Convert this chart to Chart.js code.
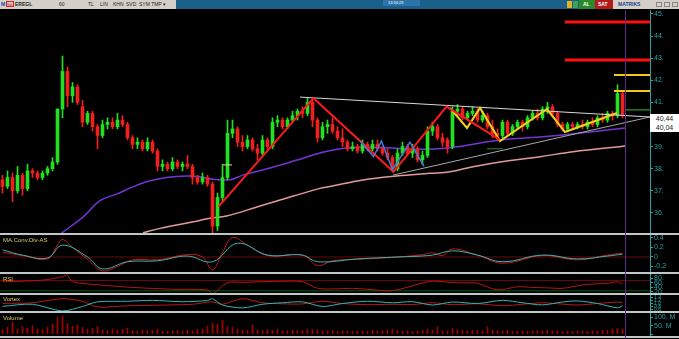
<!DOCTYPE html>
<html>
<head>
<meta charset="utf-8">
<script src="https://cdn.jsdelivr.net/npm/chart.js@4.4.1/dist/chart.umd.min.js"></script>
<style>
  body { margin: 0; background: #000; width: 679px; height: 339px; overflow: hidden; position: relative; font-family: "Liberation Sans", Arial, sans-serif; }
  canvas { position: absolute; left: 0; }
  .sep { position: absolute; left: 0; width: 679px; height: 2px; background: #bfc7c7; }
  .title { position: absolute; left: 3px; font-size: 6px; line-height: 6px; color: #d9cf6a; }
  .tb { position: absolute; top: 0; height: 9px; }
  .tt { position: absolute; top: 1px; font-size: 5px; line-height: 7px; color: #222; }
</style>
</head>
<body>

<!-- toolbar -->
<div class="tb" style="left:0;width:679px;background:#1b5f8b"></div>
<div class="tb" style="left:0;width:176px;background:#d4d0c8"></div>
<span class="tt" style="left:1px;color:#1a40b0;font-weight:bold">M</span>
<span class="tt" style="left:6px;top:1px;width:8px;height:6px;border:1px solid #d02020;box-sizing:border-box;color:#d02020;font-size:4px;line-height:5px">Sd</span>
<span class="tt" style="left:15px;font-weight:bold">EREGL</span>
<span class="tt" style="left:59px">60</span>
<span class="tt" style="left:88px">TL</span>
<span class="tt" style="left:100px">LIN</span>
<span class="tt" style="left:113px">KHN</span>
<span class="tt" style="left:126px">SVD</span>
<span class="tt" style="left:139px">SYM TMP</span>
<span class="tt" style="left:163px">▾</span>
<div class="tb" style="left:383px;width:37px;height:6px;background:#2c74a8"></div>
<span class="tt" style="left:388px;top:0;color:#fff;font-size:4px;line-height:6px">13:34:29</span>
<div class="tb" style="left:567px;top:1px;width:5px;height:7px;background:#e0b030"></div>
<div class="tb" style="left:573px;top:1px;width:5px;height:7px;background:#3fa04f"></div>
<div class="tb" style="left:579px;width:16px;background:#2a8a2a"></div>
<span class="tt" style="left:583px;color:#fff;font-weight:bold">AL</span>
<div class="tb" style="left:595px;width:18px;background:#b01c1c"></div>
<span class="tt" style="left:598px;color:#fff;font-weight:bold">SAT</span>
<div class="tb" style="left:613px;width:66px;background:#d4d0c8"></div>
<span class="tt" style="left:618px;color:#243c8c;font-weight:bold">MATRIKS</span>
<div class="tb" style="left:656px;top:2px;width:6px;height:5px;border:1px solid #888;box-sizing:border-box"></div>
<div class="tb" style="left:664px;top:2px;width:6px;height:5px;border:1px solid #888;box-sizing:border-box"></div>
<div class="tb" style="left:672px;top:2px;width:6px;height:5px;border:1px solid #888;box-sizing:border-box"></div>

<!-- panes -->
<canvas id="main" width="679" height="223" style="top:10px"></canvas>
<div class="sep" style="top:233px"></div>
<canvas id="macd" width="679" height="37" style="top:235px"></canvas>
<div class="sep" style="top:272px"></div>
<canvas id="rsi" width="679" height="19" style="top:274px"></canvas>
<div class="sep" style="top:293px"></div>
<canvas id="vortex" width="679" height="16" style="top:295px"></canvas>
<div class="sep" style="top:311px"></div>
<canvas id="volume" width="679" height="23" style="top:313px"></canvas>
<div class="sep" style="top:336px"></div>

<div class="title" style="top:237px">MA.Conv.Div-AS</div>
<div class="title" style="top:276px">RSI</div>
<div class="title" style="top:296px">Vortex</div>
<div class="title" style="top:315px">Volume</div>

<!-- cursor line + last price box -->
<div style="position:absolute;left:625px;top:10px;width:1px;height:329px;background:#5e2a8a"></div>
<div id="pricebox" style="position:absolute;left:650px;top:114px;width:29px;height:18px;background:#fff;font-size:7px;line-height:9px;color:#222;text-align:center"></div>

<script>
// ---- data (bar index 0..124, hourly candles) ----
const opens = [37.5,37.2,37.6,37.0,37.7,37.1,37.9,37.8,37.6,37.8,
  38.0,38.3,40.7,42.4,41.3,41.7,40.8,40.1,40.5,39.9,
  39.5,40.0,40.1,39.9,40.2,40.0,39.4,39.1,39.2,38.9,
  39.2,38.8,38.1,38.2,38.0,38.3,38.1,38.2,38.1,37.6,
  37.4,37.6,37.3,35.4,36.7,37.6,39.6,39.8,39.2,39.0,
  39.3,38.9,38.7,39.3,39.0,40.1,40.2,39.9,40.2,40.4,
  40.6,40.5,41.0,40.2,39.4,39.9,40.0,39.7,39.4,39.2,
  38.9,39.0,38.8,39.1,38.9,39.1,38.9,38.7,38.5,38.0,
  38.7,39.0,38.7,38.9,38.4,38.6,39.7,39.9,39.4,39.3,
  39.0,40.6,40.7,40.3,40.5,40.6,40.2,40.4,39.9,39.6,
  39.5,40.1,39.6,39.9,40.1,39.9,40.3,40.5,40.3,40.7,
  40.8,40.5,40.0,39.8,40.0,39.9,40.0,39.9,40.1,40.0,
  40.3,40.2,40.5,40.4,41.4];
const highs = [37.7,37.9,37.8,38.1,37.8,38.2,38.0,37.9,37.9,38.1,
  38.5,40.7,43.1,42.6,41.9,41.8,41.1,40.6,40.6,40.0,
  40.2,40.3,40.3,40.5,40.4,40.1,39.5,39.4,39.3,39.4,
  39.3,38.9,38.4,38.3,38.5,38.4,38.3,38.6,38.2,37.7,
  37.8,37.7,37.4,36.9,38.2,40.2,40.2,39.9,39.5,39.5,
  39.4,39.1,39.5,39.4,40.3,40.4,40.3,40.3,40.6,40.7,
  40.8,41.2,41.1,40.3,40.1,40.2,40.3,39.9,39.8,39.3,
  39.2,39.1,39.3,39.2,39.3,39.3,39.0,38.9,38.6,38.9,
  39.2,39.1,39.1,39.0,38.8,39.9,40.1,40.0,39.6,39.4,
  40.8,40.9,40.8,40.6,40.8,40.7,40.6,40.5,40.2,39.8,
  40.2,40.2,40.0,40.2,40.2,40.4,40.6,40.7,40.8,41.0,
  40.9,40.6,40.1,40.1,40.1,40.1,40.2,40.2,40.3,40.4,
  40.5,40.6,40.6,41.8,41.5];
const lows = [36.9,37.1,36.5,36.9,36.8,37.0,37.6,37.5,37.5,37.7,
  37.9,38.2,40.3,40.8,41.0,40.9,39.9,40.0,39.7,38.9,
  39.4,39.8,39.8,39.8,39.9,39.3,38.9,38.9,38.8,38.8,
  38.7,37.9,37.9,37.9,37.9,38.0,37.9,38.0,37.3,37.3,
  37.3,37.2,35.0,35.2,36.5,37.5,39.4,39.0,38.8,38.9,
  38.8,38.4,38.6,38.9,38.9,39.9,39.8,39.8,40.1,40.2,
  40.3,40.4,39.9,39.2,39.3,39.6,39.6,39.3,39.0,38.8,
  38.8,38.7,38.7,38.8,38.8,38.8,38.6,38.4,37.85,37.9,
  38.6,38.6,38.5,38.3,38.2,38.5,39.5,39.3,39.0,38.7,
  38.9,40.4,40.2,40.2,40.4,40.1,40.1,39.8,39.4,39.3,
  39.4,39.5,39.5,39.8,39.7,39.8,40.2,40.2,40.2,40.5,
  40.4,39.9,39.7,39.7,39.8,39.8,39.8,39.8,39.9,39.9,
  40.1,40.1,40.2,40.3,40.3];
const closes = [37.2,37.6,37.0,37.7,37.1,37.9,37.8,37.6,37.8,38.0,
  38.3,40.7,42.4,41.3,41.7,41.0,40.1,40.5,39.9,39.5,
  40.0,40.1,39.9,40.2,40.0,39.4,39.1,39.2,38.9,39.2,
  38.8,38.1,38.2,38.0,38.3,38.1,38.2,38.1,37.6,37.4,
  37.6,37.3,35.4,36.7,37.6,39.6,39.8,39.2,39.0,39.3,
  38.9,38.7,39.3,39.0,40.1,40.2,39.9,40.2,40.4,40.6,
  40.5,41.0,40.2,39.4,39.9,40.0,39.7,39.4,39.2,38.9,
  39.0,38.8,39.1,38.9,39.1,38.9,38.7,38.5,38.0,38.7,
  39.0,38.7,38.9,38.4,38.6,39.7,39.9,39.4,39.2,39.0,
  40.6,40.7,40.3,40.5,40.6,40.2,40.4,39.9,39.6,39.5,
  40.1,39.6,39.9,40.1,39.9,40.3,40.5,40.3,40.7,40.8,
  40.5,40.0,39.8,40.0,39.9,40.0,39.9,40.1,40.0,40.3,
  40.2,40.5,40.4,41.4,40.44];
const volumes = [25,40,70,30,45,35,50,30,25,40,
  60,100,107,65,45,55,40,30,35,45,
  25,20,30,22,28,35,20,18,25,20,
  22,30,18,15,20,22,18,25,20,28,
  30,48,65,60,83,45,40,30,25,22,
  54,25,20,28,22,30,18,20,25,22,
  20,30,28,25,20,18,22,15,20,18,
  15,18,20,16,22,18,20,25,30,22,
  18,20,15,18,22,30,25,42,20,18,
  35,25,20,18,22,20,18,42,25,20,
  18,22,15,18,20,16,18,22,20,25,
  18,20,15,18,16,20,18,15,20,18,
  22,25,30,35,30];

// moving averages [bar, price]
const maPurple = [[11.8,35.08],[16.2,35.83],[19.5,36.55],[22.8,36.85],[26.2,37.19],[29.5,37.45],[32.8,37.6],[36.8,37.67],[39.5,37.64],[42.1,37.52],[45.5,37.5],[48.1,37.71],[53.5,38.03],[58.9,38.39],[63.5,38.71],[68.9,38.94],[75.5,38.96],[82.1,38.88],[89.5,38.95],[99.5,39.3],[107.5,39.43],[117.5,39.66],[124.5,39.84]];
const maPink = [[28.1,35.1],[31.5,35.3],[38.2,35.6],[41.5,35.76],[44.8,35.86],[51.5,36.31],[58.2,36.76],[63.5,37.11],[65.5,37.19],[72.1,37.49],[78.8,37.67],[85.5,37.79],[89.5,37.86],[94.1,38.09],[100.8,38.35],[107.5,38.54],[114.1,38.77],[124.5,39.03]];

// drawings
const zigRed = [[43.2,36.28],[62.2,41.19],[78.2,37.86],[88.8,40.81],[99.5,39.3]];
const zigYellow = [[89.5,40.75],[92.9,39.84],[95.5,40.75],[99.5,39.25],[108.9,40.7],[112.5,39.66],[122.9,40.52]];
const zigBlue = [[71.5,39.25],[74.2,38.55],[75.8,39.25],[78,37.95],[81.5,39.2],[84.3,38.1]];
const trendUpper = [[59.5,41.24],[129.5,40.34]];
const trendLower = [[78.1,37.71],[129.5,40.34]];
const stepMark = [[44.1,38.17],[45.9,38.17]];
const greenMark = [[96.9,38.9],[100.1,38.9]];
const redLevels = [44.64, 42.92];
const redFrom = 112.5;
const yellowLevels = [42.24, 41.52];
const yellowFrom = 122.3;
const greenLevels = [40.66];
const greenFrom = 124.5;
const lastPrices = ['40,44', '40,04'];

// indicators [bar, value]
const macdFast = [[0,0.1],[4,0.03],[9,-0.04],[11,0.25],[12,0.37],[14,0.2],[17,-0.05],[20,-0.29],[23,-0.2],[26,-0.06],[31,-0.06],[37,0.05],[40,0.0],[42,-0.27],[44,0.1],[46,0.41],[49,0.25],[53,0.03],[60,0.04],[63,-0.18],[66,-0.08],[71,-0.05],[79,0.0],[84,0.05],[86,0.09],[88,0.03],[90,0.17],[95,0.04],[100,-0.13],[108,0.03],[115,-0.06],[121,0.04],[124,0.08]];
const macdSlow = [[0,0.15],[4,0.04],[9,-0.02],[12,0.25],[17,0],[20,-0.25],[25,-0.1],[31,-0.08],[37,0.02],[42,-0.1],[47,0.29],[53,0.04],[60,0.04],[63,-0.1],[71,-0.04],[79,0],[86,0.04],[90,0.13],[95,0.04],[100,-0.1],[108,0.04],[115,-0.04],[121,0.02],[124,0.06]];
const rsiVals = [[0,65],[8,72],[12,87],[13,93],[14,65],[20,50],[26,40],[34,32],[41,29],[42,12],[45,61],[48,62],[52,65],[56,67],[60,65],[63,36],[67,34],[70,36],[73,32],[78,26],[85,65],[87,67],[90,61],[92,60],[95,58],[99,29],[103,43],[106,40],[109,38],[112,36],[116,51],[119,56],[121,58],[123,65],[124,55]];
const rsiLevels = [70, 25];
const viPlus = [[0,0.81],[6,0.95],[12,0.5],[16,0.8],[19,1.11],[25,1.15],[30,1.21],[36,1.12],[41,1.2],[42,1.32],[44,0.9],[48,0.71],[52,0.95],[56,1.05],[60,1.11],[64,0.8],[68,1.0],[73,1.15],[78,1.05],[82,1.12],[86,0.9],[90,1.1],[95,1.0],[100,1.21],[104,1.05],[108,0.91],[112,1.1],[115,1.17],[119,1.0],[123,0.71],[124,0.85]];
const viMinus = [[0,1.01],[6,1.05],[12,1.32],[16,1.15],[19,0.77],[25,0.85],[30,0.88],[34,0.91],[38,0.95],[42,1.11],[44,0.95],[48,1.32],[52,1.05],[56,0.98],[60,0.97],[64,1.15],[68,1.0],[73,0.92],[78,0.95],[82,0.93],[86,1.05],[90,0.92],[95,0.98],[100,0.85],[104,0.95],[108,1.05],[112,0.96],[115,0.9],[119,1.0],[123,1.1],[124,1.05]];

// ---- styling ----
const AXIS = "#26a3a3";
const GREEN = "#22e022";
const RED = "#ee2020";
const X_MIN = -0.5, X_MAX = 129.5;

const pts = arr => arr.map(p => ({ x: p[0], y: p[1] }));

function xAxis() {
    return { type: "linear", min: X_MIN, max: X_MAX, display: false, offset: false };
}

function rightAxis(min, max, step, fmt, size) {
    return {
        type: "linear",
        position: "right",
        min: min,
        max: max,
        grid: { drawOnChartArea: false, color: AXIS, tickLength: 3 },
        border: { display: true, color: AXIS, dash: [1, 1] },
        ticks: {
            stepSize: step,
            includeBounds: false,
            autoSkip: false,
            color: AXIS,
            padding: 1,
            font: { size: size || 7, family: "Liberation Sans" },
            callback: fmt
        },
        afterFit: a => { a.width = 29; a.paddingTop = 0; a.paddingBottom = 0; }
    };
}

function line(data, color, width, order, tension) {
    return {
        type: "line",
        data: pts(data),
        borderColor: color,
        borderWidth: width,
        pointRadius: 0,
        tension: tension || 0,
        order: order
    };
}

function hLine(price, from, color, width) {
    return line([[from, price], [X_MAX, price]], color, width, 1);
}

function baseOptions(yScale) {
    return {
        responsive: false,
        animation: false,
        events: [],
        layout: { padding: 0 },
        plugins: { legend: { display: false }, tooltip: { enabled: false } },
        scales: { x: xAxis(), y: yScale }
    };
}

// 📈 price pane
const candleColors = closes.map((c, i) => c >= opens[i] ? GREEN : RED);

const mainSets = [
    line(maPink, "#e39a9a", 1.5, 12, 0.4),
    line(maPurple, "#7434d6", 1.5, 11, 0.4),
    {
        type: "bar",
        data: closes.map((c, i) => ({ x: i, y: [lows[i], highs[i]] })),
        backgroundColor: candleColors,
        barThickness: 1,
        grouped: false,
        order: 10
    },
    {
        type: "bar",
        data: closes.map((c, i) => ({ x: i, y: [opens[i], c] })),
        backgroundColor: candleColors,
        barThickness: 3,
        minBarLength: 1,
        grouped: false,
        order: 9
    },
    line(trendUpper, "#d8d8d8", 1, 3),
    line(trendLower, "#a8a8a8", 1, 3),
    line(zigBlue, "#4a78d8", 1.5, 2),
    line(zigRed, "#ff1a1a", 2, 2),
    line(zigYellow, "#f2d21b", 2, 2),
    line(stepMark, "#e8d890", 1, 2),
    line(greenMark, "#2a8a2a", 1, 2)
];
redLevels.forEach(p => mainSets.push(hLine(p, redFrom, "#ff1010", 3)));
yellowLevels.forEach(p => mainSets.push(hLine(p, yellowFrom, "#f2c81b", 2)));
greenLevels.forEach(p => mainSets.push(hLine(p, greenFrom, "#30c030", 1)));

new Chart(document.getElementById("main"), {
    type: "bar",
    data: { datasets: mainSets },
    options: baseOptions(rightAxis(35.09, 45.18, 1, v => v + "."))
});

// MACD pane
new Chart(document.getElementById("macd"), {
    type: "line",
    data: {
        datasets: [
            line(macdSlow, "#3ab5b0", 1, 1, 0.4),
            line(macdFast, "#c81818", 1, 2, 0.4),
            line([[X_MIN, 0], [X_MAX, 0]], "#6a0a0a", 1, 3)
        ]
    },
    options: baseOptions(rightAxis(-0.316, 0.463, 0.2, v => v === 0 ? "0" : v.toFixed(1)))
});

// RSI pane
new Chart(document.getElementById("rsi"), {
    type: "line",
    data: {
        datasets: [
            line(rsiVals, "#b81414", 1, 1, 0.3),
            line([[X_MIN, rsiLevels[0]], [X_MAX, rsiLevels[0]]], "#6a0a0a", 1, 2),
            line([[X_MIN, rsiLevels[1]], [X_MAX, rsiLevels[1]]], "#0d5a0d", 1, 2)
        ]
    },
    options: baseOptions(rightAxis(15.5, 98.9, 20, v => v + "."))
});

// Vortex pane
new Chart(document.getElementById("vortex"), {
    type: "line",
    data: {
        datasets: [
            line(viPlus, "#35b5b5", 1, 1, 0.3),
            line(viMinus, "#b81a1a", 1, 2, 0.3)
        ]
    },
    options: baseOptions(rightAxis(0.5, 1.567, 0.2, v => v.toFixed(1), 5))
});

// Volume pane
new Chart(document.getElementById("volume"), {
    type: "bar",
    data: {
        datasets: [{
            data: volumes.map((v, i) => ({ x: i, y: v })),
            backgroundColor: "#a80000",
            barThickness: 1,
            grouped: false
        }]
    },
    options: baseOptions(rightAxis(-11.3, 125.6, 50, v => v > 0 ? v + ". M" : ""))
});

// last price box
document.getElementById("pricebox").innerHTML = lastPrices.map(t => "<div>" + t + "</div>").join("");
</script>
</body>
</html>
